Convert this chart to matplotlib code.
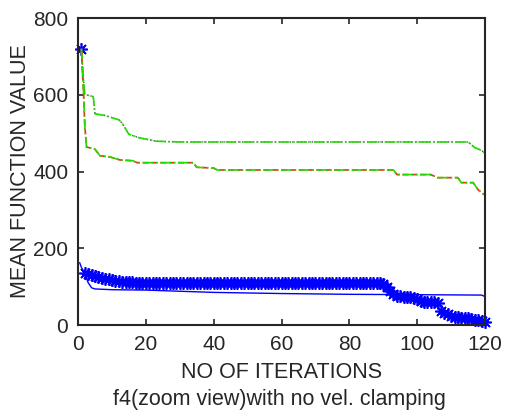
import numpy as np
import matplotlib.pyplot as plt

plt.rcParams['font.family'] = ['Liberation Sans', 'DejaVu Sans']

# upper green dash-dot curve (breakpoints)
up_x = [1, 1.6, 2, 4.5, 5, 7.5, 12, 13, 15, 18, 23, 30, 115, 117, 119, 120]
up_y = [720, 640, 601, 595, 550, 547, 535, 526, 497, 488, 479, 477, 477, 462, 455, 447]

# lower red/green curve (breakpoints)
lo_x = [1, 1.3, 1.6, 2, 2.5, 5, 6.5, 9.4, 12.4, 16.2, 17.4, 34, 35, 40, 41, 93, 94, 104, 106, 112, 113, 116.5, 118, 120]
lo_y = [720, 660, 612, 520, 464, 458, 441, 438, 430, 428, 423, 423, 411, 409, 404, 404, 392, 392, 384, 384, 371, 371, 352, 338]

# blue solid curve (breakpoints)
bl_x = [0.5, 1, 2, 3, 4, 5, 10, 20, 30, 40, 60, 80, 100, 119, 120]
bl_y = [162, 150, 135, 110, 97, 94, 92, 91, 88, 85, 82, 80, 79, 78, 74]

# blue asterisk series, one value per iteration
star_x = np.arange(1, 121)
star_y = [720, 135, 134, 131, 129, 126, 123, 121, 119, 117, 115, 114, 113, 112, 111,
          111, 110, 110, 110, 110, 110, 110, 110, 110, 110, 110, 110, 110, 110, 110,
          110, 110, 110, 110, 110, 110, 110, 110, 110, 110, 110, 110, 110, 110, 110,
          110, 110, 110, 110, 110, 110, 110, 110, 110, 110, 110, 110, 110, 110, 110,
          110, 110, 110, 110, 110, 110, 110, 110, 110, 110, 110, 110, 110, 110, 110,
          110, 110, 110, 110, 110, 110, 110, 110, 110, 110, 110, 110, 110, 109, 108,
          100, 88, 80, 76, 75, 74, 73, 72, 70, 68, 62, 61, 60, 60, 59,
          58, 36, 31, 28, 24, 21, 20, 19, 18, 17, 15, 13, 12, 10, 8]

fig = plt.figure(figsize=(5.05, 4.17), dpi=100)
ax = fig.add_axes([0.1545, 0.2206, 0.806, 0.7362])

ax.plot(bl_x, bl_y, color='#0000ff', lw=1.0)
ax.plot(star_x, star_y, linestyle='none', marker=(8, 2, 0), color='#0000ff',
        markersize=9, markeredgewidth=1.2, clip_on=False)
ax.plot(up_x, up_y, color='#555555', lw=1.0, linestyle=':')
ax.plot(up_x, up_y, color='#22dd00', lw=1.2, linestyle='-.')
ax.plot(lo_x, lo_y, color='#ff2020', lw=1.2, linestyle='--')
ax.plot(lo_x, lo_y, color='#22dd00', lw=1.2, linestyle='-.')

ax.set_xlim(0, 120)
ax.set_ylim(0, 800)
ax.set_xticks(range(0, 121, 20))
ax.set_yticks(range(0, 801, 200))
ax.tick_params(direction='in', top=True, right=True, length=4, width=1.2,
               labelsize=15, colors='#262626', pad=7)
for s in ax.spines.values():
    s.set_linewidth(1.5)
    s.set_color('#262626')

ax.set_xlabel('NO OF ITERATIONS', fontsize=15.5, color='#262626', va='center')
ax.xaxis.set_label_coords(0.5, -0.156)
ax.set_ylabel('MEAN FUNCTION VALUE', fontsize=15.5, color='#262626', va='center')
ax.yaxis.set_label_coords(-0.1425, 0.5)
fig.text(0.553, 0.041, 'f4(zoom view)with no vel. clamping', ha='center',
         va='center', fontsize=15.5, color='#262626')

fig.savefig('out.png', dpi=100)
